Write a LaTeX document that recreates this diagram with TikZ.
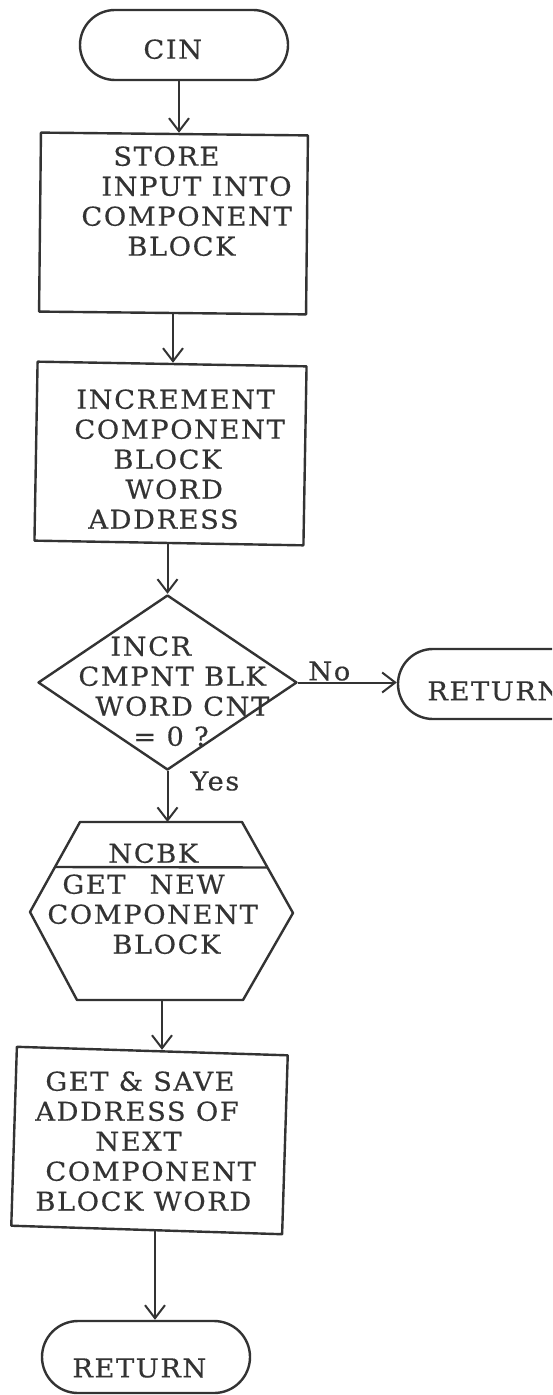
\documentclass[tikz,border=0pt]{standalone}
\usepackage{fontspec}
\newfontfamily\typefont{DejaVu Serif}[LetterSpace=6,FakeStretch=1.05,FakeBold=0.4]
\usetikzlibrary{arrows.meta,shapes.geometric,calc}

\definecolor{ink}{HTML}{333333}

\tikzset{
  outline/.style={draw=ink, line width=1.2pt, line join=round},
  procbox/.style={outline, rectangle, inner sep=0pt},
  termbox/.style={outline, rectangle, rounded corners=17.5pt, inner sep=0pt,
                  minimum width=104pt, minimum height=35pt},
  decision/.style={outline, diamond, inner sep=0pt},
  txt/.style={text=ink, inner sep=0pt, align=left, anchor=north west,
              font=\typefont\fontsize{13pt}{15pt}\selectfont},
  flow/.style={draw=ink, line width=1pt,
               -{Straight Barb[length=6.5pt,width=10pt,line width=1pt]}},
}

\begin{document}
\begin{tikzpicture}[x=0.5pt,y=-0.5pt]
  \useasboundingbox (0,0) rectangle (552,1395);
  \fill[white] (0,0) rectangle (552,1395);
  \clip (0,0) rectangle (552,1395);

  % entry terminal
  \node[termbox] (cin) at (184,45) {};
  \node[txt] (cintxt) at (143,39) {CIN};

  % store input
  \node[procbox, minimum width=133.5pt, minimum height=89.5pt, rotate=-0.6]
    (store) at (173.5,223.5) {};
  \node[txt] (storetxt) at (81,146)
    {\hspace*{16pt}STORE\\
     \hspace*{10pt}INPUT INTO\\
     COMPONENT\\
     \hspace*{23pt}BLOCK};

  % increment address
  \node[procbox, minimum width=134.5pt, minimum height=89.5pt, rotate=-1.0]
    (incr) at (170.5,453.5) {};
  \node[txt] (incrtxt) at (74,389)
    {\hspace*{1pt}INCREMENT\\
     COMPONENT\\
     \hspace*{19.5pt}BLOCK\\
     \hspace*{25.5pt}WORD\\
     \hspace*{7pt}ADDRESS};

  % word count test
  \node[decision, minimum width=129.5pt, minimum height=87.5pt]
    (test) at (167.5,682.5) {};
  \node[txt] (testtxt) at (78,636)
    {\hspace*{16pt}INCR\\
     CMPNT BLK\\
     \hspace*{8.5pt}WORD CNT\\
     \hspace*{27.5pt}= 0 ?};

  % early return
  \node[termbox] (retA) at (502,684) {};
  \node[txt] (retAtxt) at (427,681) {RETURN};

  % subroutine call NCBK
  \coordinate (h1) at (80,822);
  \coordinate (h2) at (242,822);
  \coordinate (h3) at (293,913);
  \coordinate (h4) at (243,1000);
  \coordinate (h5) at (77,1000);
  \coordinate (h6) at (30,912);
  \draw[outline] (h1) -- (h2) -- (h3) -- (h4) -- (h5) -- (h6) -- cycle;
  \draw[outline] ($(h1)!0.5!(h6)$) -- ($(h2)!0.5!(h3)$);
  \coordinate (hexin) at (167.5,822);
  \coordinate (hexout) at (162,1000);
  \node[txt] (ncbk) at (108,843) {NCBK};
  \node[txt] (ncbktxt) at (47,874)
    {\hspace*{7.5pt}GET\hspace{7pt} NEW\\
     COMPONENT\\
     \hspace*{32.5pt}BLOCK};

  % save next address
  \node[procbox, minimum width=135.5pt, minimum height=89.5pt, rotate=-1.8]
    (save) at (149.5,1140.5) {};
  \node[txt] (savetxt) at (35,1071)
    {\hspace*{5pt}GET \& SAVE\\
     ADDRESS OF\\
     \hspace*{30pt}NEXT\\
     \hspace*{5pt}COMPONENT\\
     BLOCK WORD};

  % final return
  \node[termbox, minimum height=36pt, rounded corners=18pt] (retB) at (146,1357) {};
  \node[txt] (retBtxt) at (72,1358) {RETURN};

  % branch labels
  \node[txt] (nolbl) at (308,661) {No};
  \node[txt] (yeslbl) at (190,771) {Yes};

  % connectors
  \coordinate (ax1) at (179,0);
  \coordinate (ax2) at (173,0);
  \coordinate (ax6) at (155,0);
  \draw[flow] (cin.south -| ax1) -- (store.north -| ax1);
  \draw[flow] (store.south -| ax2) -- (incr.north -| ax2);
  \draw[flow] (incr.south -| test.north) -- (test.north);
  \draw[flow] (test.east) -- (test.east -| retA.west);
  \draw[flow] (test.south) -- (hexin);
  \draw[flow] (hexout) -- (save.north -| hexout);
  \draw[flow] (save.south -| ax6) -- (retB.north -| ax6);
\end{tikzpicture}
\end{document}
